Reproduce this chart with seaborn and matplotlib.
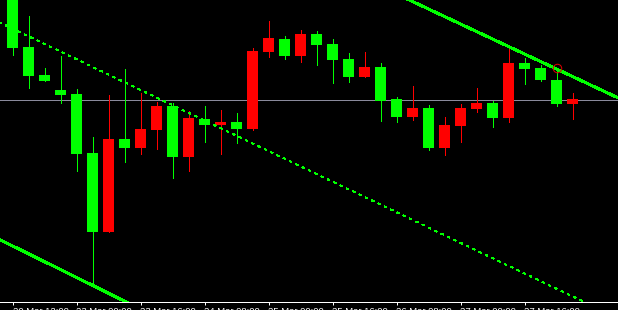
import numpy as np
import pandas as pd
import matplotlib
matplotlib.use("Agg")
import matplotlib.pyplot as plt
import seaborn as sns

# ---- data (H4 candles) ----
opens = [1.0958, 1.0903, 1.0875, 1.0860, 1.0856, 1.0797, 1.0718, 1.0811, 1.0802, 1.0820,
         1.0844, 1.0793, 1.0831, 1.0825, 1.0828, 1.0821, 1.0898, 1.0911, 1.0894, 1.0916,
         1.0906, 1.0891, 1.0873, 1.0883, 1.0851, 1.0833, 1.0842, 1.0802, 1.0824, 1.0841,
         1.0847, 1.0832, 1.0887, 1.0882, 1.0870, 1.0846]
highs = [1.0965, 1.0934, 1.0882, 1.0894, 1.0861, 1.0813, 1.0855, 1.0881, 1.0857, 1.0848,
         1.0847, 1.0839, 1.0844, 1.0840, 1.0837, 1.0902, 1.0929, 1.0914, 1.0920, 1.0919,
         1.0911, 1.0897, 1.0898, 1.0887, 1.0853, 1.0864, 1.0845, 1.0833, 1.0846, 1.0862,
         1.0849, 1.0902, 1.0892, 1.0885, 1.0881, 1.0857]
lows = [1.0895, 1.0862, 1.0869, 1.0847, 1.0779, 1.0665, 1.0718, 1.0788, 1.0796, 1.0801,
        1.0772, 1.0779, 1.0808, 1.0796, 1.0807, 1.0820, 1.0893, 1.0891, 1.0888, 1.0885,
        1.0867, 1.0868, 1.0873, 1.0829, 1.0828, 1.0830, 1.0800, 1.0795, 1.0808, 1.0838,
        1.0823, 1.0828, 1.0866, 1.0869, 1.0844, 1.0831]
closes = [1.0902, 1.0874, 1.0869, 1.0855, 1.0796, 1.0718, 1.0811, 1.0802, 1.0821, 1.0844,
          1.0793, 1.0832, 1.0825, 1.0828, 1.0821, 1.0899, 1.0912, 1.0894, 1.0916, 1.0905,
          1.0890, 1.0873, 1.0883, 1.0849, 1.0833, 1.0842, 1.0802, 1.0825, 1.0842, 1.0847,
          1.0832, 1.0887, 1.0881, 1.0870, 1.0846, 1.0851]

tick_idx = [0, 4, 8, 12, 16, 20, 24, 28, 32]
tick_labels = ["20 Mar 12:00", "23 Mar 00:00", "23 Mar 16:00", "24 Mar 08:00",
               "25 Mar 00:00", "25 Mar 16:00", "26 Mar 08:00", "27 Mar 00:00",
               "27 Mar 16:00"]

bid_level = 1.08505
upper_x = [24, 38]
upper_y = [1.0956, 1.0851]
lower_x = [-1, 8]
lower_y = [1.0712, 1.0641]
dash_x = [-1, 36]
dash_y = [1.0929, 1.0646]
alert_x = [34]
alert_y = [1.0882]

# ---- style ----
sns.set_theme(style="dark", rc={"axes.facecolor": "black", "figure.facecolor": "black",
                                "savefig.facecolor": "black"})
plt.rcParams['font.family'] = ['Liberation Sans', 'DejaVu Sans']

PX = 0.72  # one pixel in points at 100 dpi
GREEN = "#00ff00"
RED = "#ff0000"

fig = plt.figure(figsize=(6.18, 3.10), dpi=100)
ax = fig.add_axes([0, 8.5 / 310, 1, 301.5 / 310])
ax.set_facecolor("black")

df = pd.DataFrame({"open": opens, "high": highs, "low": lows, "close": closes})
df["idx"] = np.arange(len(df))
df["color"] = np.where(df["close"] >= df["open"], RED, GREEN)

# horizontal bid line
ax.axhline(bid_level, color="#8a8a9c", lw=PX, antialiased=False, zorder=1)

# wicks and bodies
ax.vlines(df["idx"], df["low"], df["high"], colors=df["color"], linewidth=PX,
          antialiased=False, zorder=2)
ax.bar(df["idx"], (df["close"] - df["open"]).abs(),
       bottom=np.minimum(df["open"], df["close"]), width=11 / 16,
       color=df["color"], linewidth=0, antialiased=False, zorder=3)

# trend lines
sns.lineplot(x=upper_x, y=upper_y, ax=ax, color=GREEN, linewidth=2 * PX,
             antialiased=False, zorder=4)
sns.lineplot(x=lower_x, y=lower_y, ax=ax, color=GREEN, linewidth=2 * PX,
             antialiased=False, zorder=4)
sns.lineplot(x=dash_x, y=dash_y, ax=ax, color=GREEN, linewidth=PX,
             linestyle=(0, (2.5, 4.5)), antialiased=False, zorder=4)

# alert circle
ax.plot(alert_x, alert_y, marker="o", mfc="none", mec="#dd0000", ms=8.5 * PX,
        mew=PX, linestyle="none", zorder=5)

ax.set_xlim(-12.5 / 16, (618 - 12.5) / 16)
ax.set_ylim(1.0950 - 301.5e-4, 1.0950)

for s in ["top", "left", "right"]:
    ax.spines[s].set_visible(False)
ax.spines["bottom"].set_color("white")
ax.spines["bottom"].set_linewidth(PX)

ax.set_yticks([])
ax.set_xticks(tick_idx)
ax.set_xticklabels(tick_labels, ha="left")
ax.tick_params(axis="x", bottom=True, colors="white", length=3 * PX, width=PX,
               direction="out", pad=1.5, labelsize=6.8)
ax.grid(False)
ax.set_xlabel("")
ax.set_ylabel("")

fig.savefig("out.png", dpi=100, facecolor="black")
